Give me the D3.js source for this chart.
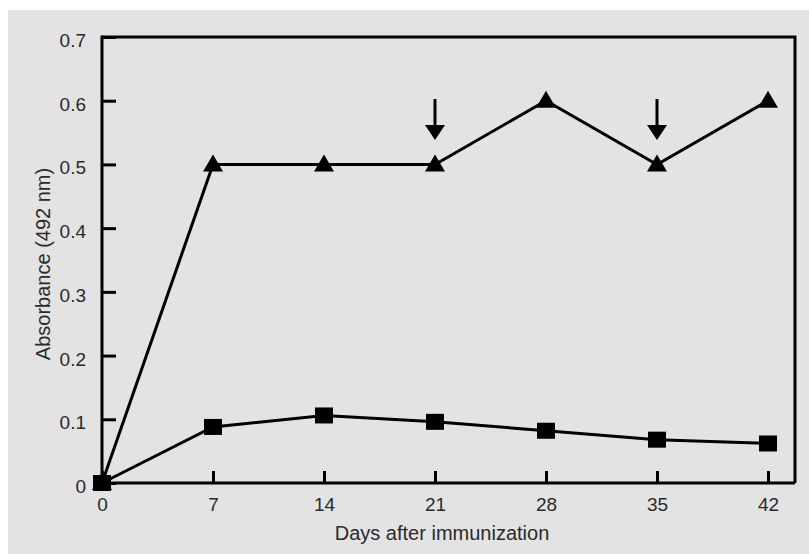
<!DOCTYPE html>
<html lang="en">
<head>
    <meta charset="UTF-8">
    <title>Absorbance after immunization</title>
    <style>
        body {
            margin: 0;
            background-color: #ffffff;
            font-family: "Liberation Sans", Arial, sans-serif;
        }
    </style>
    <script src="https://d3js.org/d3.v7.min.js"></script>
</head>
<body>
    <div id="chart"></div>
    <script>
        // Data
        const days = [0, 7, 14, 21, 28, 35, 42];
        const triangleValues = [0, 0.5, 0.5, 0.5, 0.6, 0.5, 0.6];
        const squareValues = [0, 0.088, 0.106, 0.096, 0.082, 0.068, 0.062];
        const arrowDays = [21, 35];
        const xTicks = [0, 7, 14, 21, 28, 35, 42];
        const yTicks = [0, 0.1, 0.2, 0.3, 0.4, 0.5, 0.6, 0.7];

        const width = 809;
        const height = 554;
        const textColor = '#2a2a2a';

        const svg = d3.select('#chart').append('svg')
            .attr('width', width)
            .attr('height', height);

        // grey panel
        svg.append('rect')
            .attr('x', 8)
            .attr('y', 10)
            .attr('width', width - 8)
            .attr('height', height - 10)
            .attr('fill', '#e3e3e3');

        const x = d3.scaleLinear().domain([0, 42]).range([102, 768]);
        const y = d3.scaleLinear().domain([0, 0.7]).range([483, 37]);
        const frameRight = 795;

        // frame (top and right)
        svg.append('path')
            .attr('d', `M${x(0)},${y(0.7)}H${frameRight}V${y(0)}`)
            .attr('fill', 'none')
            .attr('stroke', '#000')
            .attr('stroke-width', 3);

        // axes with inward ticks
        const xAxis = svg.append('g')
            .attr('transform', `translate(0,${y(0)})`)
            .call(d3.axisBottom(x).tickValues(xTicks).tickSize(-12).tickPadding(15).tickFormat(d3.format('d')));

        const yAxis = svg.append('g')
            .attr('transform', `translate(${x(0)},0)`)
            .call(d3.axisLeft(y).tickValues(yTicks).tickSize(-14).tickPadding(16).tickFormat(d => d === 0 ? '0' : d3.format('.1f')(d)));

        [xAxis, yAxis].forEach(g => {
            g.select('.domain').remove();
            g.selectAll('line').attr('stroke', '#000').attr('stroke-width', 3);
            g.selectAll('text')
                .attr('fill', textColor)
                .style('font-size', '19px')
                .style('font-family', '"Liberation Sans", Arial, sans-serif');
        });
        yAxis.selectAll('text').attr('dy', '0.5em');

        svg.append('line')
            .attr('x1', x(0)).attr('x2', frameRight)
            .attr('y1', y(0)).attr('y2', y(0))
            .attr('stroke', '#000').attr('stroke-width', 3);
        svg.append('line')
            .attr('x1', x(0)).attr('x2', x(0))
            .attr('y1', y(0.7) - 1.5).attr('y2', y(0) + 1.5)
            .attr('stroke', '#000').attr('stroke-width', 3);

        // axis titles
        svg.append('text')
            .attr('x', 442)
            .attr('y', 540)
            .attr('text-anchor', 'middle')
            .attr('fill', textColor)
            .style('font-size', '20px')
            .text('Days after immunization');

        svg.append('text')
            .attr('transform', 'translate(50,264) rotate(-90)')
            .attr('text-anchor', 'middle')
            .attr('fill', textColor)
            .style('font-size', '20px')
            .text('Absorbance (492 nm)');

        const line = d3.line()
            .x(d => x(d[0]))
            .y(d => y(d[1]));

        const triData = days.map((d, i) => [d, triangleValues[i]]);
        const sqData = days.map((d, i) => [d, squareValues[i]]);

        svg.append('path')
            .datum(triData)
            .attr('d', line)
            .attr('fill', 'none')
            .attr('stroke', '#000')
            .attr('stroke-width', 3);

        svg.append('path')
            .datum(sqData)
            .attr('d', line)
            .attr('fill', 'none')
            .attr('stroke', '#000')
            .attr('stroke-width', 3);

        // triangle markers
        svg.append('g')
            .selectAll('path')
            .data(triData)
            .join('path')
            .attr('transform', d => `translate(${x(d[0])},${y(d[1])})`)
            .attr('d', 'M0,-10L10,7L-10,7Z')
            .attr('fill', '#000');

        // square markers
        svg.append('g')
            .selectAll('rect')
            .data(sqData)
            .join('rect')
            .attr('x', d => x(d[0]) - 9)
            .attr('y', d => y(d[1]) - 8)
            .attr('width', 18)
            .attr('height', 16)
            .attr('fill', '#000');

        // booster arrows
        const arrows = svg.append('g')
            .selectAll('g')
            .data(arrowDays)
            .join('g')
            .attr('transform', d => `translate(${x(d)},0)`);

        arrows.append('line')
            .attr('x1', 0).attr('x2', 0)
            .attr('y1', 99).attr('y2', 128)
            .attr('stroke', '#000')
            .attr('stroke-width', 3);

        arrows.append('path')
            .attr('d', 'M-10,125L10,125L0,140Z')
            .attr('fill', '#000');
    </script>
</body>
</html>
